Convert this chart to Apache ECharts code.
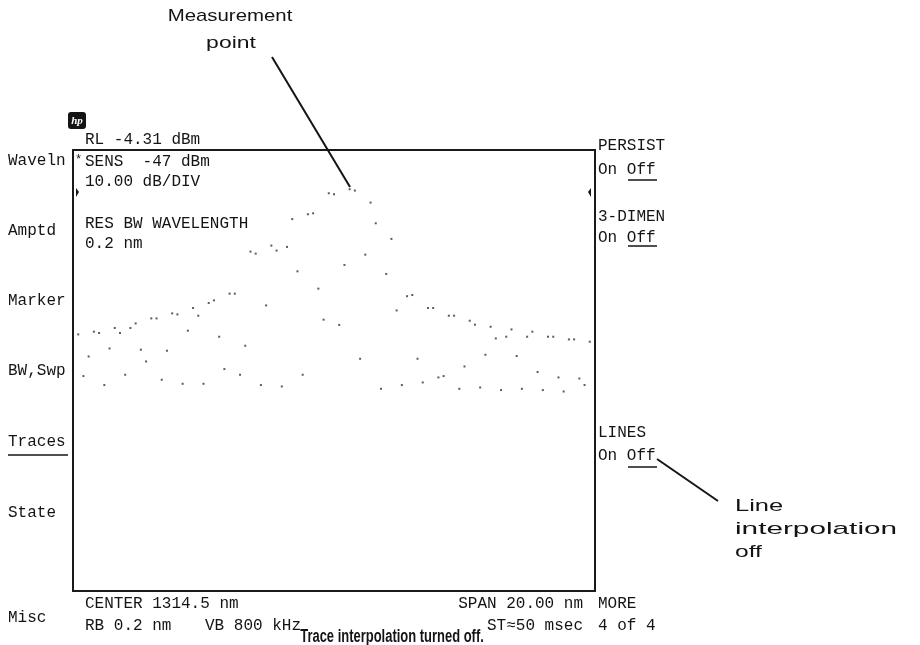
<!DOCTYPE html>
<html>
<head>
<meta charset="utf-8">
<script src="https://cdn.jsdelivr.net/npm/echarts@6/dist/echarts.min.js"></script>
<style>html,body{margin:0;padding:0;background:#fff;}#c{width:920px;height:645px;}</style>
</head>
<body>
<div id="c"></div>
<script>
// Sweep sample wavelengths (nm)
const wavelengths = [1304.7,1304.9,1305.1,1305.3,1305.5,1305.7,1305.9,1306.1,1306.3,1306.5,
1306.7,1306.9,1307.1,1307.3,1307.5,1307.7,1307.9,1308.1,1308.3,1308.5,
1308.7,1308.9,1309.1,1309.3,1309.5,1309.7,1309.9,1310.1,1310.3,1310.5,
1310.7,1310.9,1311.1,1311.3,1311.5,1311.7,1311.9,1312.1,1312.3,1312.5,
1312.7,1312.9,1313.1,1313.3,1313.5,1313.7,1313.9,1314.1,1314.3,1314.5,
1314.7,1314.9,1315.1,1315.3,1315.5,1315.7,1315.9,1316.1,1316.3,1316.5,
1316.7,1316.9,1317.1,1317.3,1317.5,1317.7,1317.9,1318.1,1318.3,1318.5,
1318.7,1318.9,1319.1,1319.3,1319.5,1319.7,1319.9,1320.1,1320.3,1320.5,
1320.7,1320.9,1321.1,1321.3,1321.5,1321.7,1321.9,1322.1,1322.3,1322.5,
1322.7,1322.9,1323.1,1323.3,1323.5,1323.7,1323.9,1324.1,1324.3];
// Measured power (dBm), one point per sample
const powerDbm = [-37.76,-45.32,-41.76,-37.27,-37.51,-46.95,-40.31,-36.60,-37.51,-45.08,
-36.60,-35.77,-40.54,-42.67,-34.86,-34.86,-45.99,-40.72,-33.95,-34.13,
-46.72,-37.09,-32.97,-34.37,-46.72,-32.06,-31.59,-38.18,-44.05,-30.37,
-30.37,-45.08,-39.82,-22.74,-23.11,-46.95,-32.50,-21.65,-22.56,-47.21,
-21.89,-16.84,-26.32,-45.08,-15.97,-15.79,-29.46,-35.09,-12.16,-12.34,
-36.04,-25.16,-11.43,-11.67,-42.18,-23.29,-13.85,-17.60,-47.63,-26.79,
-20.44,-33.41,-46.95,-30.83,-30.61,-42.18,-46.48,-32.97,-32.97,-45.57,
-45.32,-34.37,-34.37,-47.63,-43.58,-35.28,-36.00,-47.39,-41.45,-36.37,
-38.49,-47.86,-38.18,-36.86,-41.69,-47.63,-38.18,-37.27,-44.59,-47.86,
-38.18,-38.18,-45.57,-48.12,-38.67,-38.67,-45.76,-46.95,-39.09];

const centerNm = 1314.5, spanNm = 20.0;
const refLevel = -4.31, dbPerDiv = 10, divisions = 8;

const menuLeft = ['Waveln','Amptd','Marker','BW,Swp','Traces','State','Misc'];

const chart = echarts.init(document.getElementById('c'));
const MONO = '16px "Liberation Mono", "DejaVu Sans Mono", monospace';
const INK = '#141414';
function t(x, y, text, opts) {
  opts = opts || {};
  return {
    type: 'text', x: x, y: y, z: 10,
    scaleX: opts.scaleX || 1,
    style: {
      text: text, font: opts.font || MONO, fill: opts.fill || INK,
      textAlign: opts.align || 'left', textVerticalAlign: 'middle'
    }
  };
}
function ln(x1, y1, x2, y2, w) {
  return { type: 'line', z: 10, shape: {x1:x1,y1:y1,x2:x2,y2:y2}, style: {stroke: INK, lineWidth: w || 1.5} };
}
const menuY = [161, 231, 301, 371, 442, 513, 618];
const graphics = [];
menuLeft.forEach((m, i) => graphics.push(t(8, menuY[i], m)));
graphics.push(ln(8, 455, 68, 455, 1.5));
// header annotations inside screen
graphics.push(t(85, 140, 'RL ' + refLevel.toFixed(2) + ' dBm'));
graphics.push(t(75, 160, '*', {font: '12px "Liberation Mono", monospace'}));
graphics.push(t(85, 162, 'SENS  -47 dBm'));
graphics.push(t(85, 182, dbPerDiv.toFixed(2) + ' dB/DIV'));
graphics.push(t(85, 224, 'RES BW WAVELENGTH'));
graphics.push(t(85, 244, '0.2 nm'));
// reference level markers
graphics.push({type:'polygon', z:10, shape:{points:[[76,188],[79,192],[76,197]]}, style:{fill:INK}});
graphics.push({type:'polygon', z:10, shape:{points:[[591,188],[588,192],[591,197]]}, style:{fill:INK}});
// right softkeys
graphics.push(t(598, 146, 'PERSIST'));
graphics.push(t(598, 170, 'On Off'));
graphics.push(ln(628, 180, 657, 180));
graphics.push(t(598, 217, '3-DIMEN'));
graphics.push(t(598, 238, 'On Off'));
graphics.push(ln(628, 246, 657, 246));
graphics.push(t(598, 433, 'LINES'));
graphics.push(t(598, 456, 'On Off'));
graphics.push(ln(628, 467, 657, 467));
graphics.push(t(598, 604, 'MORE'));
graphics.push(t(598, 626, '4 of 4'));
// bottom annotations
graphics.push(t(85, 604, 'CENTER ' + centerNm.toFixed(1) + ' nm'));
graphics.push(t(85, 626, 'RB 0.2 nm'));
graphics.push(t(205, 626, 'VB 800 kHz'));
graphics.push(t(583, 604, 'SPAN ' + spanNm.toFixed(2) + ' nm', {align: 'right'}));
graphics.push(t(583, 626, 'ST\u224850 msec', {align: 'right'}));
// hp logo
graphics.push({type:'rect', z:10, shape:{x:68, y:112, width:18, height:17, r:3}, style:{fill:INK}});
graphics.push({type:'text', z:11, x:77, y:121, style:{text:'hp', font:'italic bold 11px "Liberation Serif", serif', fill:'#fff', textAlign:'center', textVerticalAlign:'middle'}});
// callouts
const SANS = '17px "Liberation Sans", Arial, sans-serif';
graphics.push(t(230, 16, 'Measurement', {font: SANS, align: 'center', scaleX: 1.2}));
graphics.push(t(231, 43, 'point', {font: SANS, align: 'center', scaleX: 1.35}));
graphics.push(ln(272, 57, 350, 187, 2));
graphics.push(t(735, 506, 'Line', {font: SANS, scaleX: 1.5}));
graphics.push(t(735, 529, 'interpolation', {font: SANS, scaleX: 1.75}));
graphics.push(t(735, 552, 'off', {font: SANS, scaleX: 1.45}));
graphics.push(ln(657, 459, 718, 501, 2));
// caption
graphics.push(t(392, 637, 'Trace interpolation turned off.', {font: 'bold 18px "Liberation Sans Narrow", "Liberation Sans", Arial, sans-serif', align: 'center', scaleX: 0.72}));

chart.setOption({
  animation: false,
  backgroundColor: '#fff',
  grid: {left: 73, top: 150, width: 522, height: 441, show: true, borderColor: '#1a1a1a', borderWidth: 2, backgroundColor: 'transparent'},
  xAxis: {type: 'value', min: centerNm - spanNm/2, max: centerNm + spanNm/2, show: false},
  yAxis: {type: 'value', min: refLevel - dbPerDiv*divisions, max: refLevel, show: false},
  series: [{
    type: 'scatter',
    data: wavelengths.map((w, i) => [w, powerDbm[i]]),
    symbol: 'rect', symbolSize: 2,
    itemStyle: {color: '#333'},
    silent: true
  }],
  graphic: graphics
});
</script>
</body>
</html>
